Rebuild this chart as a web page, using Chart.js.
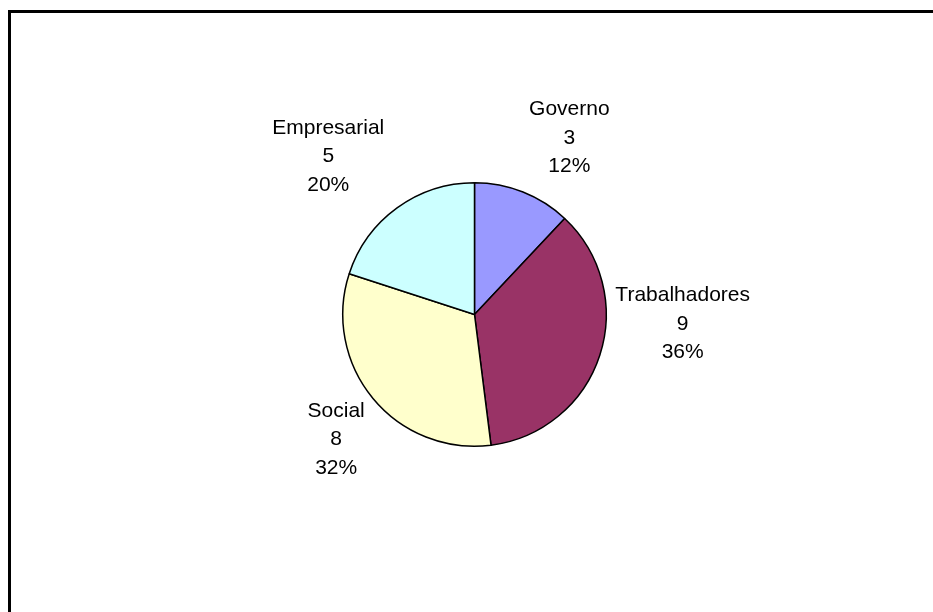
<!DOCTYPE html>
<html>
<head>
<meta charset="utf-8">
<script src="https://cdn.jsdelivr.net/npm/chart.js@4.4.0/dist/chart.umd.min.js"></script>
<style>
  html, body { margin: 0; padding: 0; background: #fff; }
  #wrap { position: relative; width: 933px; height: 612px; overflow: hidden; }
  #frame { position: absolute; left: 8px; top: 10px; width: 1000px; height: 700px;
           border-left: 3px solid #000; border-top: 3px solid #000; box-sizing: border-box; }
  canvas { position: absolute; left: 0; top: 0; }
</style>
</head>
<body>
<div id="wrap">
  <div id="frame"></div>
  <canvas id="c" width="933" height="612"></canvas>
</div>
<script>
const categories = ["Governo", "Trabalhadores", "Social", "Empresarial"];
const values = [3, 9, 8, 5];
const colors = ["#9999FF", "#993366", "#FFFFCC", "#CCFFFF"];

// label block centres, relative to pie centre, in units of radius (style only)
const labelOffsets = [[0.72, -1.34], [1.58, 0.07], [-1.05, 0.95], [-1.11, -1.20]];

const total = values.reduce((a, b) => a + b, 0);

const labelPlugin = {
  id: 'sliceLabels',
  afterDatasetsDraw(chart) {
    const ctx = chart.ctx;
    const meta = chart.getDatasetMeta(0);
    ctx.save();
    ctx.font = '21px "Liberation Sans", Arial, sans-serif';
    ctx.fillStyle = '#000';
    ctx.textAlign = 'center';
    ctx.textBaseline = 'middle';
    const lh = 28.5;
    meta.data.forEach((arc, i) => {
      const r = arc.outerRadius;
      const cx = arc.x + labelOffsets[i][0] * r;
      const cy = arc.y + labelOffsets[i][1] * r;
      const pct = Math.round(values[i] / total * 100) + '%';
      const lines = [categories[i], String(values[i]), pct];
      lines.forEach((t, k) => ctx.fillText(t, cx, cy + (k - 1) * lh));
    });
    ctx.restore();
  }
};

new Chart(document.getElementById('c'), {
  type: 'pie',
  data: {
    labels: categories,
    datasets: [{
      data: values,
      backgroundColor: colors,
      borderColor: '#000',
      borderWidth: 1.5,
      hoverOffset: 0
    }]
  },
  options: {
    responsive: false,
    animation: false,
    layout: { padding: { left: 342, right: 326, top: 182, bottom: 165 } },
    plugins: { legend: { display: false }, tooltip: { enabled: false } }
  },
  plugins: [labelPlugin]
});
</script>
</body>
</html>
